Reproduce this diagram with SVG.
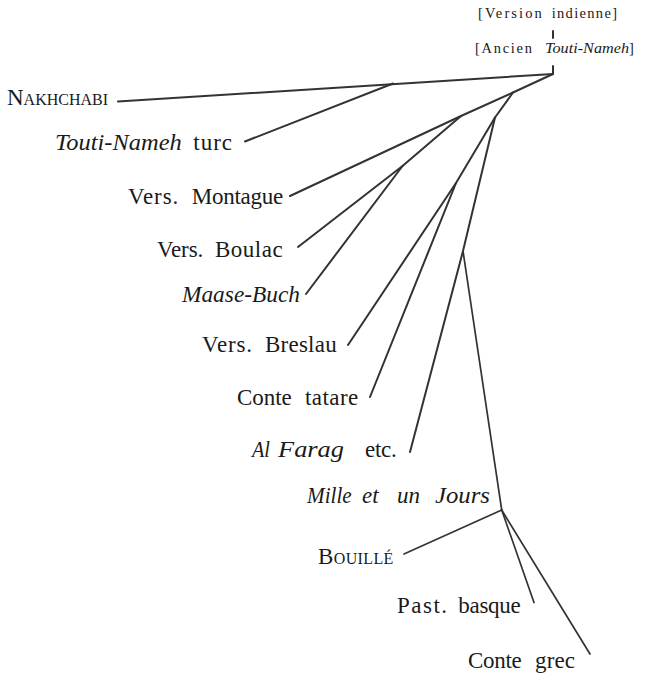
<svg xmlns="http://www.w3.org/2000/svg" width="646" height="675" viewBox="0 0 646 675">
<style>
.lbl{font-family:"Liberation Serif","Times New Roman",serif;font-size:23px;fill:#1a1a1a}
.it{font-style:italic}
.hdr{font-size:14.5px}
.sc{font-size:16px}
.edge{stroke:#333;stroke-width:2;fill:none;stroke-linecap:round;stroke-linejoin:round}
.thin{stroke-width:1.7}
</style>
<rect width="646" height="675" fill="#fff"/>
<g id="connectors">
<line class="edge" x1="553" y1="31" x2="553" y2="38"/>
<line class="edge" x1="553" y1="66" x2="553" y2="74"/>
<line class="edge" x1="553" y1="74" x2="118" y2="101.5"/>
<line class="edge" x1="393" y1="83.5" x2="245" y2="141.5"/>
<polyline class="edge" points="553,74 513,92.5 461,116 290,196"/>
<polyline class="edge" points="461,116 402.5,166 298,247"/>
<line class="edge" x1="402.5" y1="166" x2="306" y2="294"/>
<polyline class="edge" points="513,92.5 495,117.5 456,183 348,345"/>
<line class="edge" x1="456" y1="183" x2="370" y2="397"/>
<polyline class="edge" points="495,117.5 463,251 410,452"/>
<line class="edge thin" x1="463" y1="251" x2="501.7" y2="510"/>
<line class="edge thin" x1="501.7" y1="510" x2="404" y2="554"/>
<line class="edge thin" x1="501.7" y1="510" x2="534" y2="602.5"/>
<line class="edge thin" x1="501.7" y1="510" x2="590" y2="654"/>
</g>
<g id="version-indienne"><text class="lbl hdr" y="18"><tspan x="478" textLength="63.7">[Version</tspan><tspan x="551.7" textLength="65.3">indienne]</tspan></text></g>
<g id="ancien-touti-nameh"><text class="lbl hdr" y="53"><tspan x="475" textLength="57">[Ancien</tspan><tspan x="545" textLength="84" lengthAdjust="spacingAndGlyphs" class="it">Touti-Nameh</tspan><tspan>]</tspan></text></g>
<g id="nakhchabi"><text class="lbl" x="7" y="105" textLength="101">N<tspan class="sc">AKHCHABI</tspan></text></g>
<g id="touti-nameh-turc"><text class="lbl" y="150"><tspan x="55" textLength="126.7" lengthAdjust="spacingAndGlyphs" class="it">Touti-Nameh</tspan><tspan x="193.3" textLength="38.7">turc</tspan></text></g>
<g id="vers-montague"><text class="lbl" y="203.5"><tspan x="128" textLength="50.3">Vers.</tspan><tspan x="191.7" textLength="91.6">Montague</tspan></text></g>
<g id="vers-boulac"><text class="lbl" y="257"><tspan x="157" textLength="46.3">Vers.</tspan><tspan x="215" textLength="67.7">Boulac</tspan></text></g>
<g id="maase-buch"><text class="lbl it" x="182" y="301.5" textLength="118" lengthAdjust="spacingAndGlyphs">Maase-Buch</text></g>
<g id="vers-breslau"><text class="lbl" y="351.5"><tspan x="202" textLength="50">Vers.</tspan><tspan x="265" textLength="71.7">Breslau</tspan></text></g>
<g id="conte-tatare"><text class="lbl" y="405"><tspan x="237" textLength="54.7">Conte</tspan><tspan x="305" textLength="53.3">tatare</tspan></text></g>
<g id="al-farag"><text class="lbl" y="456.7"><tspan x="252" textLength="18" lengthAdjust="spacingAndGlyphs" class="it">Al</tspan><tspan x="278" textLength="66" lengthAdjust="spacingAndGlyphs" class="it">Farag</tspan><tspan x="365" textLength="31.7">etc.</tspan></text></g>
<g id="mille-et-un-jours"><text class="lbl it" y="503"><tspan x="307" textLength="44.7" lengthAdjust="spacingAndGlyphs">Mille</tspan><tspan x="362">et</tspan><tspan x="397">un</tspan><tspan x="435" textLength="55" lengthAdjust="spacingAndGlyphs">Jours</tspan></text></g>
<g id="bouille"><text class="lbl" x="318" y="563.5" textLength="75.3">B<tspan class="sc">OUILLÉ</tspan></text></g>
<g id="past-basque"><text class="lbl" y="613.3"><tspan x="397" textLength="50">Past.</tspan><tspan x="458.3" textLength="62.4">basque</tspan></text></g>
<g id="conte-grec"><text class="lbl" y="668.3"><tspan x="468" textLength="53.7">Conte</tspan><tspan x="535" textLength="40">grec</tspan></text></g>
</svg>
